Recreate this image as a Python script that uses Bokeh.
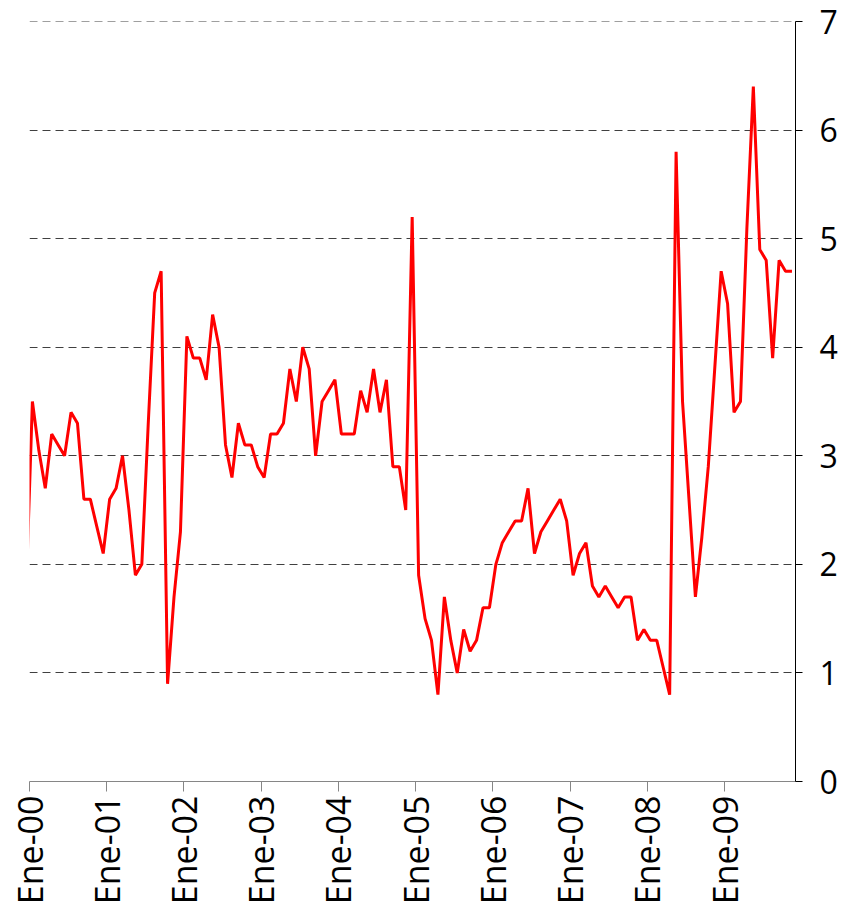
import math
from bokeh.plotting import figure
from bokeh.models import Range1d, FixedTicker, ColumnDataSource, Span
from bokeh.embed import file_html
from bokeh.resources import INLINE

# Monthly series, Dic-99 .. Nov-09 (month index relative to Ene-00)
first_month_index = -1
values = [
    1.7,                                                            # Dic-99
    3.5, 3.05, 2.7, 3.2, 3.1, 3.0, 3.4, 3.3, 2.6, 2.6, 2.35, 2.1,  # 2000
    2.6, 2.7, 3.0, 2.5, 1.9, 2.0, 3.3, 4.5, 4.7, 0.9, 1.7, 2.3,    # 2001
    4.1, 3.9, 3.9, 3.7, 4.3, 4.0, 3.1, 2.8, 3.3, 3.1, 3.1, 2.9,    # 2002
    2.8, 3.2, 3.2, 3.3, 3.8, 3.5, 4.0, 3.8, 3.0, 3.5, 3.6, 3.7,    # 2003
    3.2, 3.2, 3.2, 3.6, 3.4, 3.8, 3.4, 3.7, 2.9, 2.9, 2.5, 5.2,    # 2004
    1.9, 1.5, 1.3, 0.8, 1.7, 1.3, 1.0, 1.4, 1.2, 1.3, 1.6, 1.6,    # 2005
    2.0, 2.2, 2.3, 2.4, 2.4, 2.7, 2.1, 2.3, 2.4, 2.5, 2.6, 2.4,    # 2006
    1.9, 2.1, 2.2, 1.8, 1.7, 1.8, 1.7, 1.6, 1.7, 1.7, 1.3, 1.4,    # 2007
    1.3, 1.3, 1.05, 0.8, 5.8, 3.5, 2.6, 1.7, 2.25, 2.9, 3.8, 4.7,  # 2008
    4.4, 3.4, 3.5, 5.1, 6.4, 4.9, 4.8, 3.9, 4.8, 4.7, 4.7,         # 2009 (Ene-Nov)
]
year_ticks = [0, 12, 24, 36, 48, 60, 72, 84, 96, 108]
year_labels = ["Ene-00", "Ene-01", "Ene-02", "Ene-03", "Ene-04",
               "Ene-05", "Ene-06", "Ene-07", "Ene-08", "Ene-09"]
y_ticks = [0, 1, 2, 3, 4, 5, 6, 7]
grid_values = [1, 2, 3, 4, 5, 6]
top_value = 7

# mid-month positions on a month-based axis
mid_month = 0.45
xs = [first_month_index + i + mid_month for i in range(len(values))]
src = ColumnDataSource(data=dict(x=xs, y=values))

FONT = "Open Sans"
GRID_COLOR = "#404040"
GRID_DASH = "8 5"

p = figure(frame_width=766, frame_height=760,
           min_border_left=29, min_border_top=21, min_border_right=10,
           min_border_bottom=10,
           x_range=Range1d(0, 119), y_range=Range1d(0, 7),
           output_backend="svg", toolbar_location=None,
           x_axis_location="below", y_axis_location="right")
p.outline_line_color = None
p.background_fill_color = "white"
p.border_fill_color = "white"

p.xgrid.grid_line_color = None
p.ygrid.ticker = FixedTicker(ticks=grid_values)
p.ygrid.grid_line_color = GRID_COLOR
p.ygrid.grid_line_width = 1
p.ygrid.grid_line_dash = GRID_DASH
p.add_layout(Span(location=top_value, dimension="width", line_color=GRID_COLOR,
                  line_width=1, line_dash=GRID_DASH))

p.line("x", "y", source=src, line_color="#FF0000", line_width=3)

# x axis
xa = p.xaxis[0]
xa.ticker = FixedTicker(ticks=year_ticks)
xa.major_label_overrides = {t: l for t, l in zip(year_ticks, year_labels)}
xa.major_label_orientation = math.pi / 2
xa.major_label_text_font = FONT
xa.major_label_text_font_size = "34px"
xa.major_label_text_color = "black"
xa.axis_line_color = "#868686"
xa.major_tick_line_color = "#868686"
xa.major_tick_in = 0
xa.major_tick_out = 10
xa.minor_tick_line_color = None
xa.major_label_standoff = 4

# y axis (right)
ya = p.yaxis[0]
ya.ticker = FixedTicker(ticks=y_ticks)
ya.major_label_text_font = FONT
ya.major_label_text_font_size = "32px"
ya.major_label_text_color = "black"
ya.axis_line_color = "black"
ya.major_tick_line_color = "black"
ya.major_tick_in = 0
ya.major_tick_out = 7
ya.minor_tick_line_color = None
ya.major_label_standoff = 17

open("out.html", "w").write(file_html(p, INLINE))
